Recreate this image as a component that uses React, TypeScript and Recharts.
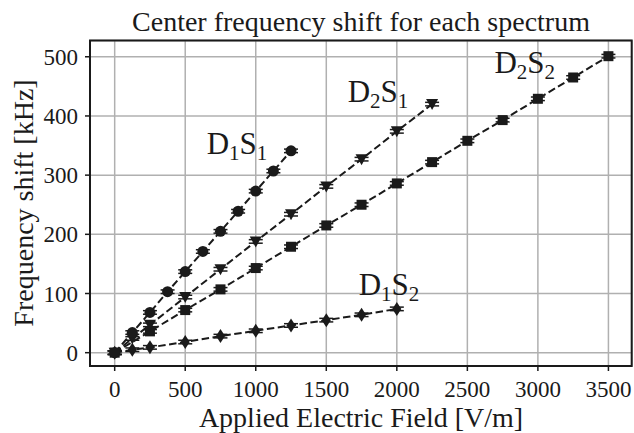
import React from 'react';
import {
  LineChart,
  Line,
  XAxis,
  YAxis,
  CartesianGrid,
  ErrorBar,
  ReferenceDot,
  ReferenceArea,
} from 'recharts';

// applied field [V/m] and centre frequency shift [kHz] per spectrum
const fieldD1S1 = [0, 125, 250, 375, 500, 625, 750, 875, 1000, 1125, 1250];
const shiftD1S1 = [0, 34, 68, 103, 137, 171, 205, 239, 273, 307, 341];

const fieldD2S1 = [0, 125, 250, 500, 750, 1000, 1250, 1500, 1750, 2000, 2250];
const shiftD2S1 = [0, 24, 47, 94, 141, 188, 234, 281, 327, 374, 420];

const fieldD2S2 = [0, 250, 500, 750, 1000, 1250, 1500, 1750, 2000, 2250, 2500, 2750, 3000, 3250, 3500];
const shiftD2S2 = [0, 36, 72, 107, 143, 179, 215, 250, 286, 322, 358, 393, 429, 465, 501];

const fieldD1S2 = [0, 125, 250, 500, 750, 1000, 1250, 1500, 1750, 2000];
const shiftD1S2 = [0, 5, 9, 18, 28, 37, 46, 55, 64, 74];

const shiftError = 3;

const xTicks = [0, 500, 1000, 1500, 2000, 2500, 3000, 3500];
const yTicks = [0, 100, 200, 300, 400, 500];

// where the series names sit (data coords, left/baseline)
const seriesLabels = [
  { name: 'D', a: '1', b: 'S', c: '1', x: 652, y: 336 },
  { name: 'D', a: '2', b: 'S', c: '1', x: 1652, y: 424 },
  { name: 'D', a: '2', b: 'S', c: '2', x: 2692, y: 473 },
  { name: 'D', a: '1', b: 'S', c: '2', x: 1730, y: 98 },
];

const INK = '#1a1a1a';
const FONT = '"Liberation Serif", "Times New Roman", serif';

const toRows = (xs: number[], ys: number[]) =>
  xs.map((x, i) => ({ field: x, shift: ys[i], err: shiftError }));

const dataD1S1 = toRows(fieldD1S1, shiftD1S1);
const dataD2S1 = toRows(fieldD2S1, shiftD2S1);
const dataD2S2 = toRows(fieldD2S2, shiftD2S2);
const dataD1S2 = toRows(fieldD1S2, shiftD1S2);

type Shape = 'circle' | 'square' | 'triangle' | 'diamond';

const Marker = ({ cx, cy, shape }: { cx?: number; cy?: number; shape: Shape }) => {
  if (cx == null || cy == null) return null;
  if (shape === 'circle') return <circle cx={cx} cy={cy} r={5.5} fill={INK} />;
  if (shape === 'square') return <rect x={cx - 5} y={cy - 5} width={10} height={10} fill={INK} />;
  if (shape === 'triangle')
    return <polygon points={`${cx - 6},${cy - 5} ${cx + 6},${cy - 5} ${cx},${cy + 6}`} fill={INK} />;
  return <polygon points={`${cx},${cy - 7} ${cx + 4.5},${cy} ${cx},${cy + 7} ${cx - 4.5},${cy}`} fill={INK} />;
};

const dotFor = (shape: Shape, id: string) => (p: any) => (
  <Marker key={`${id}-${p.index}`} cx={p.cx} cy={p.cy} shape={shape} />
);

const SeriesName = ({ viewBox, l }: any) => {
  if (!viewBox) return null;
  const x = viewBox.x + (viewBox.width || 0) / 2;
  const y = viewBox.y + (viewBox.height || 0) / 2;
  return (
    <text x={x} y={y} fontFamily={FONT} fontSize={31} fill={INK}>
      {l.name}
      <tspan fontSize={21} dy={6}>{l.a}</tspan>
      <tspan dy={-6}>{l.b}</tspan>
      <tspan fontSize={21} dy={6}>{l.c}</tspan>
    </text>
  );
};

const tickStyle = { fontSize: 23, fill: INK, fontFamily: FONT };

const seriesProps = {
  dataKey: 'shift',
  stroke: INK,
  strokeWidth: 2,
  strokeDasharray: '7.5 3.5',
  isAnimationActive: false,
  activeDot: false as const,
};

export default function App() {
  return (
    <div style={{ position: 'absolute', left: 0, top: 0, width: 634, height: 433, background: '#fff' }}>
      <LineChart width={634} height={433} margin={{ top: 40.5, right: 2.3, bottom: 0, left: 0 }}>
        <CartesianGrid stroke="#b0b0b0" strokeWidth={1.5} />
        <XAxis
          type="number"
          dataKey="field"
          domain={[-175, 3665]}
          allowDataOverflow
          ticks={xTicks}
          axisLine={false}
          tickLine={{ stroke: INK, strokeWidth: 1.5 }}
          tickSize={5}
          tickMargin={10}
          height={67}
          tick={tickStyle}
        />
        <YAxis
          type="number"
          domain={[-22.5, 527.5]}
          allowDataOverflow
          ticks={yTicks}
          axisLine={false}
          tickLine={{ stroke: INK, strokeWidth: 1.5 }}
          tickSize={5}
          tickMargin={7}
          width={90}
          tick={tickStyle}
        />
        <ReferenceArea x1={-175} x2={3665} y1={-22.5} y2={527.5} fill="none" stroke={INK} strokeWidth={2} />
        <Line data={dataD1S2} {...seriesProps} dot={dotFor('diamond', 'd1s2')}>
          <ErrorBar dataKey="err" direction="y" width={7} stroke={INK} strokeWidth={1.5} />
        </Line>
        <Line data={dataD2S2} {...seriesProps} dot={dotFor('square', 'd2s2')}>
          <ErrorBar dataKey="err" direction="y" width={7} stroke={INK} strokeWidth={1.5} />
        </Line>
        <Line data={dataD2S1} {...seriesProps} dot={dotFor('triangle', 'd2s1')}>
          <ErrorBar dataKey="err" direction="y" width={7} stroke={INK} strokeWidth={1.5} />
        </Line>
        <Line data={dataD1S1} {...seriesProps} dot={dotFor('circle', 'd1s1')}>
          <ErrorBar dataKey="err" direction="y" width={7} stroke={INK} strokeWidth={1.5} />
        </Line>
        {seriesLabels.map((l, i) => (
          <ReferenceDot
            key={i}
            x={l.x}
            y={l.y}
            r={1}
            fill="none"
            stroke="none"
            label={{ content: (p: any) => <SeriesName viewBox={p.viewBox} l={l} /> }}
          />
        ))}
      </LineChart>
      <svg
        width={634}
        height={433}
        style={{ position: 'absolute', left: 0, top: 0, pointerEvents: 'none' }}
      >
        <text x={361} y={31} textAnchor="middle" fontFamily={FONT} fontSize={28} fill={INK}>
          Center frequency shift for each spectrum
        </text>
        <text x={361} y={427} textAnchor="middle" fontFamily={FONT} fontSize={28} fill={INK}>
          Applied Electric Field [V/m]
        </text>
        <text
          x={0}
          y={0}
          transform="translate(33 203) rotate(-90)"
          textAnchor="middle"
          fontFamily={FONT}
          fontSize={28}
          fill={INK}
        >
          Frequency shift [kHz]
        </text>
      </svg>
    </div>
  );
}
